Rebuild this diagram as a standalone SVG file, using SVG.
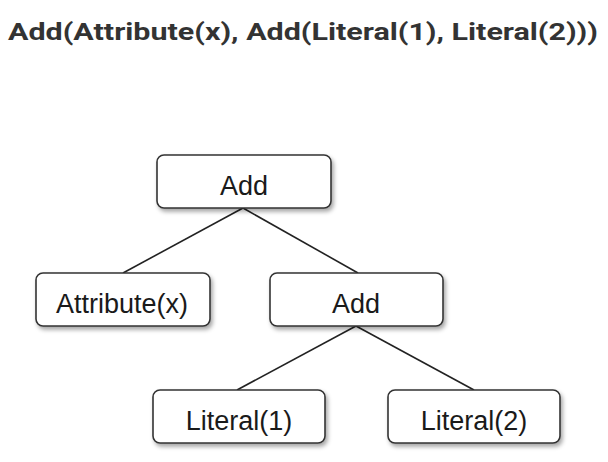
<svg xmlns="http://www.w3.org/2000/svg" width="608" height="462" viewBox="0 0 608 462">
<style>
.box{fill:#fff;stroke:#333;stroke-width:1.6;filter:url(#sh)}
.lbl{font-family:"Liberation Sans",Arial,sans-serif;font-size:27px;fill:#1a1a1a;text-anchor:middle}
.edge{stroke:#222;stroke-width:1.6;fill:none}
.title{font-family:Roboto,"Liberation Sans",sans-serif;font-weight:bold;font-size:24px;fill:#333}
</style>
<defs>
<filter id="sh" x="-10%" y="-20%" width="130%" height="160%">
<feDropShadow dx="2" dy="3" stdDeviation="2" flood-color="#000" flood-opacity="0.35"/>
</filter>
</defs>
<rect width="608" height="462" fill="#fff"/>
<text class="title" x="8" y="40" textLength="590" lengthAdjust="spacingAndGlyphs">Add(Attribute(x), Add(Literal(1), Literal(2)))</text>
<g id="edges">
<line class="edge" x1="243" y1="208" x2="123" y2="273"/>
<line class="edge" x1="243" y1="208" x2="358" y2="273"/>
<line class="edge" x1="356" y1="326" x2="237" y2="390"/>
<line class="edge" x1="356" y1="326" x2="474" y2="390"/>
</g>
<g id="n-add1">
<rect class="box" x="157" y="155" width="174" height="53" rx="7"/>
<text class="lbl" x="244" y="195">Add</text>
</g>
<g id="n-attr">
<rect class="box" x="36" y="273" width="174" height="53" rx="7"/>
<text class="lbl" x="122" y="313">Attribute(x)</text>
</g>
<g id="n-add2">
<rect class="box" x="270" y="273" width="173" height="53" rx="7"/>
<text class="lbl" x="356" y="313">Add</text>
</g>
<g id="n-lit1">
<rect class="box" x="153" y="390" width="172" height="53" rx="7"/>
<text class="lbl" x="239" y="430">Literal(1)</text>
</g>
<g id="n-lit2">
<rect class="box" x="388" y="390" width="172" height="53" rx="7"/>
<text class="lbl" x="474" y="430">Literal(2)</text>
</g>
</svg>
